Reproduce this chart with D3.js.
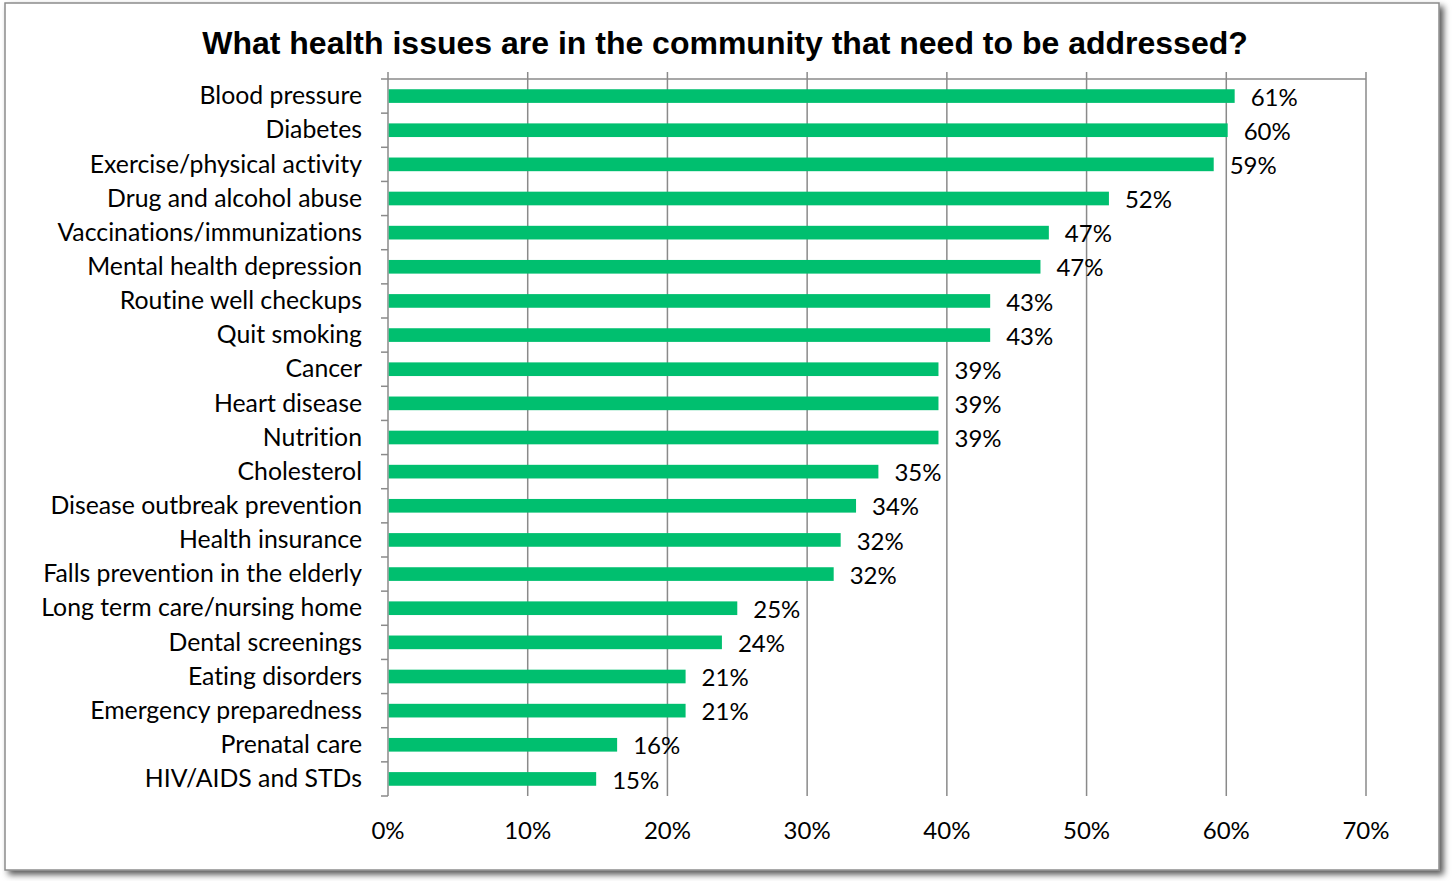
<!DOCTYPE html>
<html>
<head>
<meta charset="utf-8">
<script src="https://cdn.jsdelivr.net/npm/d3@7"></script>
<style>
  html, body { margin: 0; padding: 0; background: #fff; }
  svg { display: block; }
  text { font-variant-ligatures: none; }
</style>
</head>
<body>
<svg id="chart" width="1452" height="881"></svg>
<script>
// Survey responses: share of respondents naming each issue
const categories = [
  "Blood pressure", "Diabetes", "Exercise/physical activity", "Drug and alcohol abuse",
  "Vaccinations/immunizations", "Mental health depression", "Routine well checkups",
  "Quit smoking", "Cancer", "Heart disease", "Nutrition", "Cholesterol",
  "Disease outbreak prevention", "Health insurance", "Falls prevention in the elderly",
  "Long term care/nursing home", "Dental screenings", "Eating disorders",
  "Emergency preparedness", "Prenatal care", "HIV/AIDS and STDs"
];
const shares = [
  0.606, 0.601, 0.591, 0.516, 0.473, 0.467, 0.431, 0.431, 0.394, 0.394, 0.394,
  0.351, 0.335, 0.324, 0.319, 0.250, 0.239, 0.213, 0.213, 0.164, 0.149
];
const xTicks = [0, 0.1, 0.2, 0.3, 0.4, 0.5, 0.6, 0.7];
const title = "What health issues are in the community that need to be addressed?";

const svg = d3.select("#chart");
const W = 1452, H = 881;

// Frame with soft shadow on the right and bottom
const defs = svg.append("defs");
const sh = defs.append("filter").attr("id", "shadow")
  .attr("x", "-2%").attr("y", "-2%").attr("width", "106%").attr("height", "106%");
sh.append("feDropShadow").attr("dx", 4).attr("dy", 4).attr("stdDeviation", 3)
  .attr("flood-color", "#000").attr("flood-opacity", 0.65);

svg.append("rect")
  .attr("x", 5).attr("y", 3).attr("width", 1434).attr("height", 867)
  .attr("fill", "#fff").attr("stroke", "#8c8c8c").attr("stroke-width", 1.5)
  .attr("filter", "url(#shadow)");

const margin = { left: 388, right: W - 1366, top: 79, bottom: H - 796 };
const x = d3.scaleLinear().domain([0, 0.7]).range([margin.left, W - margin.right]);
const y = d3.scaleBand().domain(categories).range([margin.top, H - margin.bottom])
  .paddingInner(0.6).paddingOuter(0.3);
const yBand = d3.scaleBand().domain(categories).range([margin.top, H - margin.bottom]);

const gridColor = "#8a8a8a";
const labelFont = "Lato, 'Open Sans', sans-serif";
const labelSize = 24;

// Title
svg.append("text")
  .attr("x", 725).attr("y", 54)
  .attr("text-anchor", "middle")
  .attr("font-family", "'Liberation Sans', Arial, sans-serif")
  .attr("font-weight", "bold").attr("font-size", 32)
  .attr("fill", "#000")
  .text(title);

// Vertical gridlines with small ticks above the top axis
const grid = svg.append("g");
grid.selectAll("line.grid").data(xTicks.slice(1)).join("line")
  .attr("class", "grid")
  .attr("x1", d => x(d)).attr("x2", d => x(d))
  .attr("y1", margin.top - 7).attr("y2", H - margin.bottom)
  .attr("stroke", gridColor).attr("stroke-width", 1.5);

// Value axis along the top (labels placed at the bottom)
svg.append("line")
  .attr("x1", x(0)).attr("x2", x(0.7))
  .attr("y1", margin.top).attr("y2", margin.top)
  .attr("stroke", gridColor).attr("stroke-width", 1.5);

svg.append("g").selectAll("text").data(xTicks).join("text")
  .attr("x", d => x(d)).attr("y", 839)
  .attr("text-anchor", "middle")
  .attr("font-family", labelFont).attr("font-size", labelSize)
  .attr("fill", "#000")
  .text(d3.format(".0%"));

// Category axis line and ticks at band boundaries
svg.append("line")
  .attr("x1", x(0)).attr("x2", x(0))
  .attr("y1", margin.top - 7).attr("y2", H - margin.bottom)
  .attr("stroke", gridColor).attr("stroke-width", 1.5);

const bounds = categories.map(c => yBand(c)).concat([H - margin.bottom]);
svg.append("g").selectAll("line").data(bounds).join("line")
  .attr("x1", x(0) - 7).attr("x2", x(0))
  .attr("y1", d => d).attr("y2", d => d)
  .attr("stroke", gridColor).attr("stroke-width", 1.5);

svg.append("g").selectAll("text").data(categories).join("text")
  .attr("x", 362)
  .attr("y", d => yBand(d) + yBand.bandwidth() / 2)
  .attr("dy", "0.33em")
  .attr("text-anchor", "end")
  .attr("font-family", labelFont).attr("font-size", 24.8)
  .attr("fill", "#000")
  .text(d => d);

// Bars
const rows = categories.map((c, i) => ({ c, v: shares[i] }));
svg.append("g").selectAll("rect").data(rows).join("rect")
  .attr("x", x(0) + 0.75)
  .attr("y", d => y(d.c))
  .attr("width", d => x(d.v) - x(0) - 0.75)
  .attr("height", y.bandwidth())
  .attr("fill", "#00bf6f");

// Value labels
svg.append("g").selectAll("text").data(rows).join("text")
  .attr("x", d => x(d.v) + 16)
  .attr("y", d => yBand(d.c) + yBand.bandwidth() / 2)
  .attr("dy", "0.4em")
  .attr("font-family", labelFont).attr("font-size", labelSize)
  .attr("fill", "#000")
  .text(d => d3.format(".0%")(d.v));
</script>
</body>
</html>
